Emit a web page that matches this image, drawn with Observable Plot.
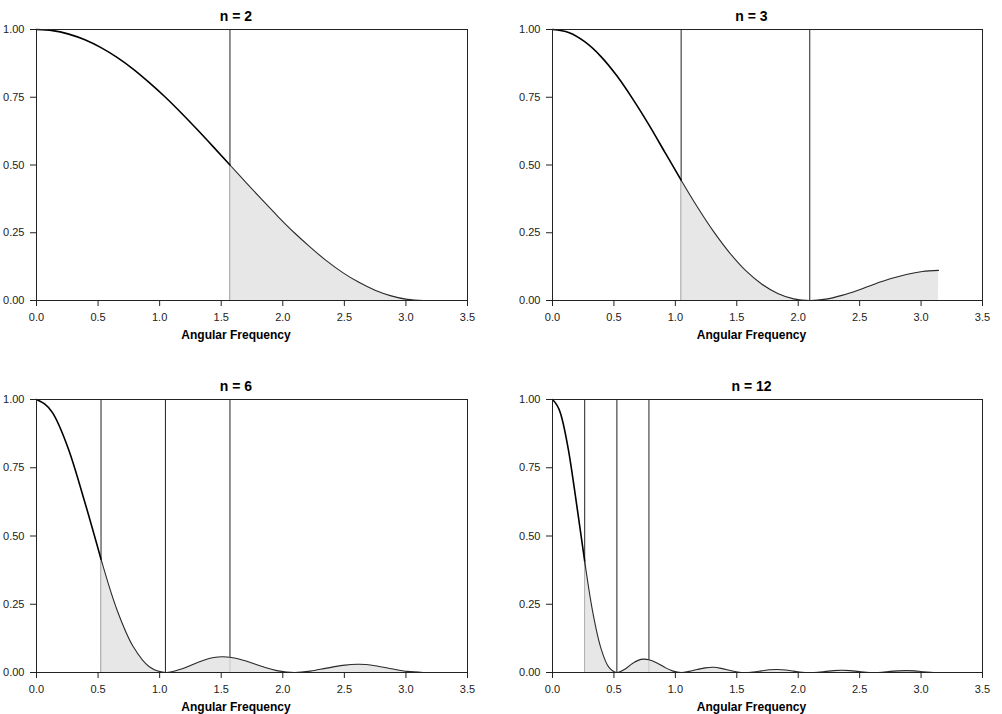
<!DOCTYPE html>
<html>
<head>
<meta charset="utf-8">
<script src="https://cdn.jsdelivr.net/npm/d3@7"></script>
<script src="https://cdn.jsdelivr.net/npm/@observablehq/plot@0.6"></script>
<style>
  body { margin: 0; background: #fff; }
  #chart { position: relative; width: 1002px; height: 714px; font-family: "Liberation Sans", Arial, sans-serif; }
  #chart svg { position: absolute; }
</style>
</head>
<body>
<div id="chart"></div>
<script>
// Squared gain of an n-point moving average, sampled over 0..pi
const freq24 = [0, 0.131, 0.262, 0.393, 0.524, 0.654, 0.785, 0.916, 1.047, 1.178, 1.309, 1.440, 1.571,
  1.702, 1.833, 1.963, 2.094, 2.225, 2.356, 2.487, 2.618, 2.749, 2.880, 3.011, 3.142];
const gainN2 = [1, 0.996, 0.983, 0.962, 0.933, 0.897, 0.854, 0.804, 0.750, 0.691, 0.629, 0.565, 0.500,
  0.435, 0.371, 0.309, 0.250, 0.196, 0.146, 0.103, 0.067, 0.038, 0.017, 0.004, 0];
const gainN3 = [1, 0.989, 0.955, 0.901, 0.829, 0.743, 0.648, 0.546, 0.444, 0.346, 0.256, 0.177, 0.111,
  0.061, 0.026, 0.006, 0, 0.005, 0.019, 0.038, 0.060, 0.080, 0.096, 0.107, 0.111];
const gainN6 = [1, 0.951, 0.815, 0.623, 0.415, 0.229, 0.095, 0.021, 0, 0.013, 0.037, 0.055, 0.056,
  0.042, 0.022, 0.006, 0, 0.005, 0.016, 0.026, 0.030, 0.025, 0.014, 0.004, 0];

const freq48 = [0, 0.065, 0.131, 0.196, 0.262, 0.327, 0.393, 0.458, 0.524, 0.589, 0.654, 0.720, 0.785,
  0.851, 0.916, 0.982, 1.047, 1.113, 1.178, 1.244, 1.309, 1.374, 1.440, 1.505, 1.571, 1.636, 1.702,
  1.767, 1.833, 1.898, 1.963, 2.029, 2.094, 2.160, 2.225, 2.291, 2.356, 2.422, 2.487, 2.553, 2.618,
  2.683, 2.749, 2.814, 2.880, 2.945, 3.011, 3.076, 3.142];
const gainN12 = [1, 0.950, 0.812, 0.617, 0.408, 0.223, 0.091, 0.020, 0, 0.012, 0.034, 0.048, 0.047,
  0.035, 0.018, 0.005, 0, 0.004, 0.011, 0.017, 0.019, 0.015, 0.008, 0.002, 0, 0.002, 0.006,
  0.010, 0.011, 0.009, 0.005, 0.001, 0, 0.001, 0.004, 0.007, 0.008, 0.007, 0.004, 0.001, 0,
  0.001, 0.004, 0.006, 0.007, 0.006, 0.003, 0.001, 0];

// Reference frequencies k*pi/n marked by vertical rules
const cutN2 = [1.571];
const cutN3 = [1.047, 2.094];
const cutN6 = [0.524, 1.047, 1.571];
const cutN12 = [0.262, 0.524, 0.785];

const panelTitles = ["n = 2", "n = 3", "n = 6", "n = 12"];
const xTicks = [0, 0.5, 1, 1.5, 2, 2.5, 3, 3.5];
const yTicks = [0, 0.25, 0.5, 0.75, 1];
const xLabel = "Angular Frequency";

const panels = [
  {title: panelTitles[0], freq: freq24, gain: gainN2, cuts: cutN2, left: 0, top: 0, ml: 36, mr: 34, mt: 29, mb: 57},
  {title: panelTitles[1], freq: freq24, gain: gainN3, cuts: cutN3, left: 501, top: 0, ml: 51, mr: 20, mt: 29, mb: 57},
  {title: panelTitles[2], freq: freq24, gain: gainN6, cuts: cutN6, left: 0, top: 357, ml: 36, mr: 34, mt: 42, mb: 42},
  {title: panelTitles[3], freq: freq48, gain: gainN12, cuts: cutN12, left: 501, top: 357, ml: 51, mr: 20, mt: 42, mb: 42}
];

const chart = document.getElementById("chart");

for (const p of panels) {
  const pts = p.freq.map((f, i) => ({f, g: p.gain[i]}));
  const start = p.cuts[0];
  const pass = pts.filter(d => d.f <= start);   // main lobe, drawn bold
  const stop = pts.filter(d => d.f >= start);   // shaded tail with side lobes

  const svg = Plot.plot({
    width: 501,
    height: 357,
    marginLeft: p.ml,
    marginRight: p.mr,
    marginTop: p.mt,
    marginBottom: p.mb,
    style: {fontFamily: "'Liberation Sans', Arial, sans-serif", fontSize: "11px", color: "#222", background: "transparent"},
    x: {domain: [0, 3.5]},
    y: {domain: [0, 1]},
    marks: [
      Plot.ruleX(p.cuts, {y1: 0, y2: 1, stroke: "#222", strokeWidth: 1}),
      Plot.areaY(stop, {x: "f", y: "g", fill: "#e3e3e3", fillOpacity: 0.85, curve: "catmull-rom"}),
      Plot.line(pass, {x: "f", y: "g", stroke: "#000", strokeWidth: 1.6, curve: "monotone-x"}),
      Plot.line(stop, {x: "f", y: "g", stroke: "#2a2a2a", strokeWidth: 1.1, curve: "catmull-rom"}),
      Plot.frame({stroke: "#222", strokeWidth: 1}),
      Plot.axisX(xTicks, {tickFormat: d => d.toFixed(1), tickSize: 6, tickPadding: 7, label: null, stroke: "#222"}),
      Plot.axisY(yTicks, {tickFormat: d => d.toFixed(2), tickSize: 6, tickPadding: 6, label: null, stroke: "#222"}),
      Plot.text([p.title], {text: d => d, frameAnchor: "top", dx: -16, dy: -9, lineAnchor: "bottom",
        fontSize: 14, fontWeight: "bold", fill: "#000"}),
      Plot.text([xLabel], {text: d => d, frameAnchor: "bottom", dx: -16, dy: 35, lineAnchor: "middle",
        fontSize: 12, fontWeight: "bold", fill: "#000"})
    ]
  });
  svg.style.left = p.left + "px";
  svg.style.top = p.top + "px";
  chart.appendChild(svg);
}
</script>
</body>
</html>
